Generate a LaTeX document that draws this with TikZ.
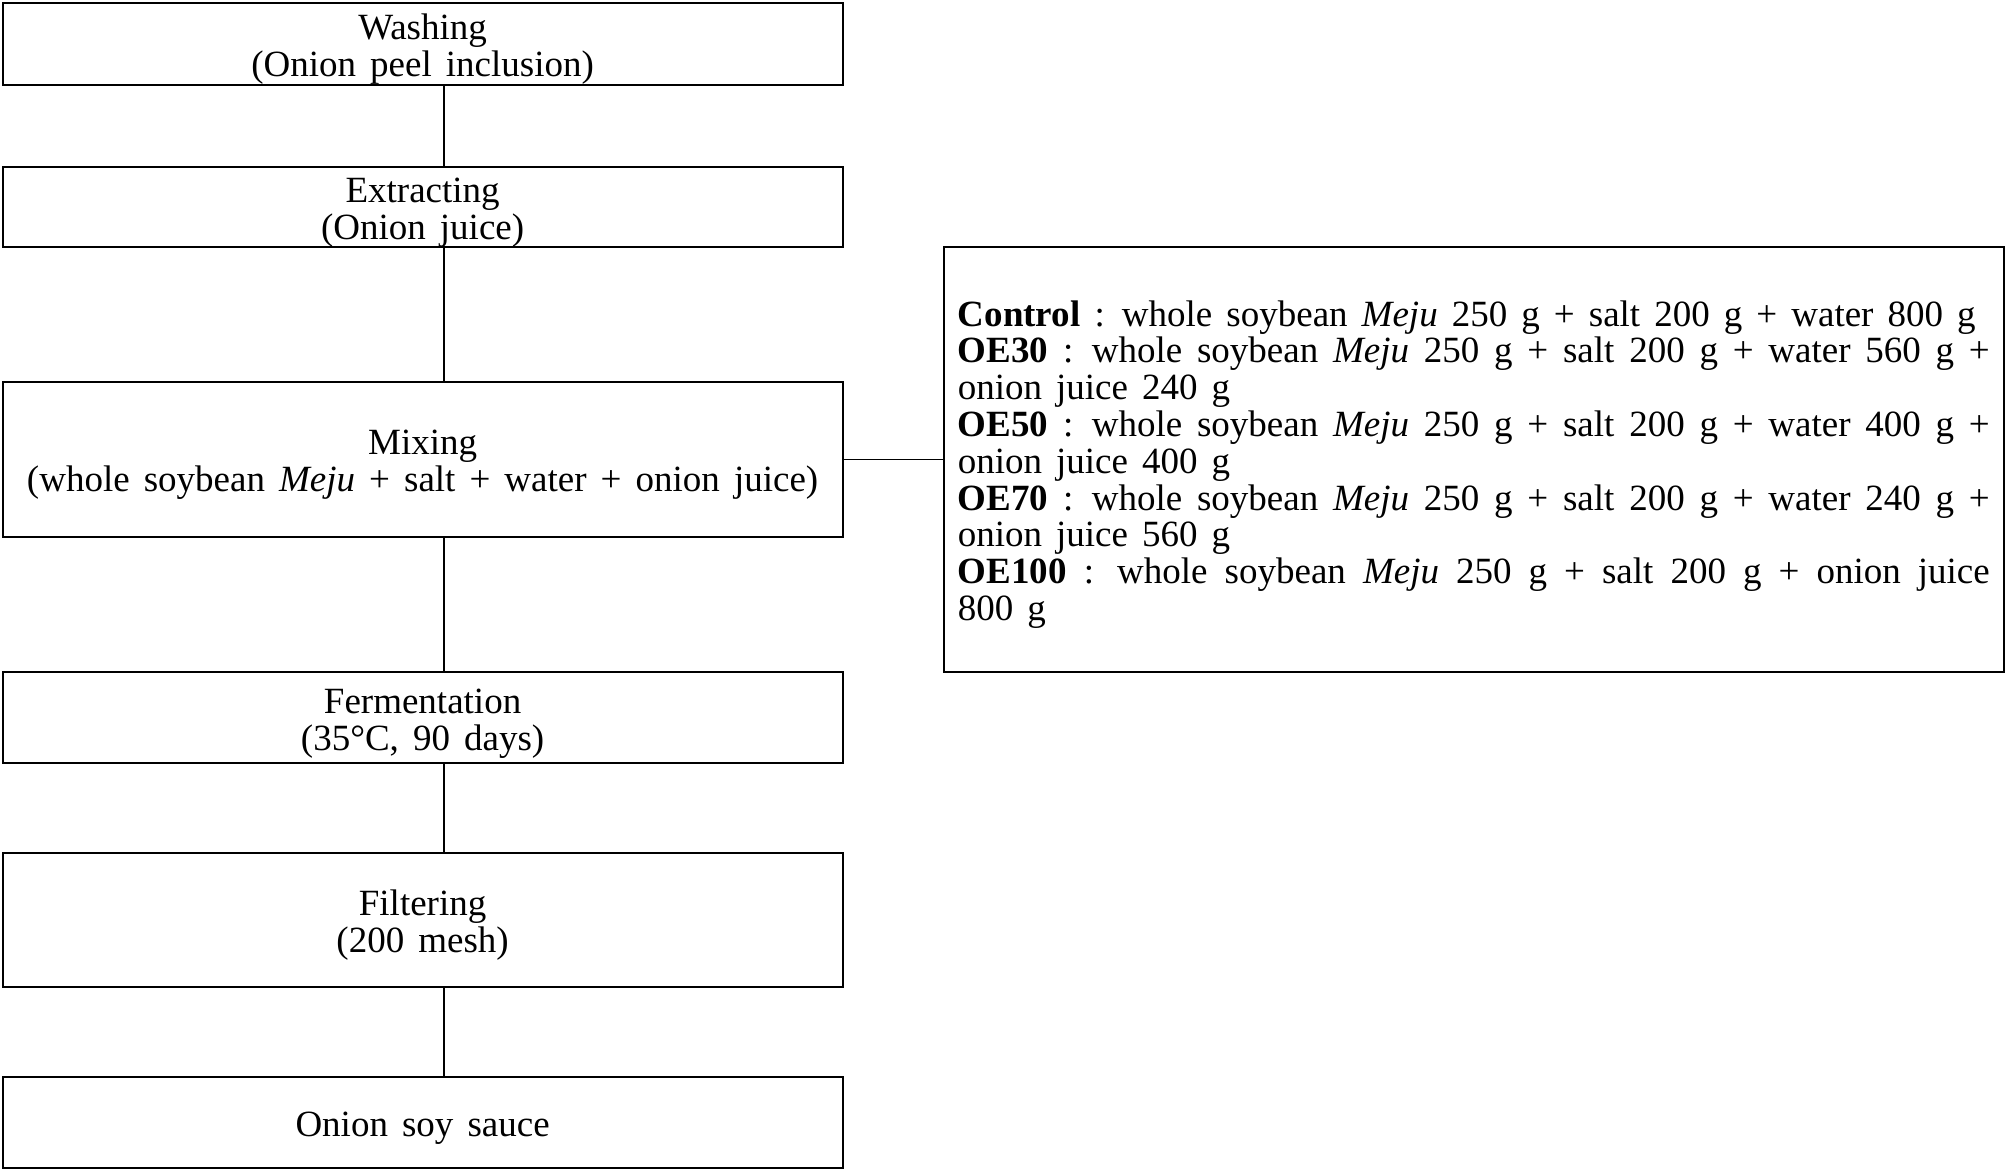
\documentclass[tikz,border=0pt]{standalone}
\usepackage{fontspec}
\setmainfont{Liberation Serif}
\usepackage{tikz}
\usetikzlibrary{positioning}
\newcommand\boxfont{\fontsize{18.5}{18.4}\selectfont\spaceskip=0.38em plus 0.5em minus 0.05em\relax}
\newcommand\lift{\rule{0pt}{18pt}}
\tikzset{
  stage/.style={draw, line width=1pt, rectangle, minimum width=420pt, align=center, inner xsep=2pt, inner ysep=0pt, outer sep=0pt},
  link/.style={line width=0.6pt},
}

\begin{document}
\begin{tikzpicture}[font=\boxfont, node distance=45pt]
  \useasboundingbox (0,0) rectangle (1004pt,-586.5pt);
  \node[stage, minimum height=41pt] (wash) at (211.3pt,-21.8pt) {\lift Washing\\(Onion peel inclusion)};
  \node[stage, below=41pt of wash, minimum height=40.3pt] (extr) {\lift Extracting\\(Onion juice)};
  \node[stage, below=67.3pt of extr, minimum height=77.5pt] (mix) {\lift Mixing\\(whole soybean \textit{Meju} + salt + water + onion juice)};
  \node[stage, below=67.7pt of mix, minimum height=45.5pt] (ferm) {\lift Fermentation\\(35°C, 90 days)};
  \node[stage, below=of ferm, minimum height=67pt] (filt) {\lift Filtering\\(200 mesh)};
  \node[stage, below=of filt, minimum height=45.5pt] (soy) {\lift Onion soy sauce};
  \node[draw, line width=1pt, outer sep=0pt, right=50.6pt of mix, text width=516pt, inner sep=7pt, minimum height=212.5pt, align=justify] (recipe) {%
    \lift\textbf{Control} : whole soybean \textit{Meju} 250 g + salt 200 g + water 800 g\par
    \textbf{OE30} : whole soybean \textit{Meju} 250 g + salt 200 g + water 560 g +\linebreak onion juice 240 g\par
    \textbf{OE50} : whole soybean \textit{Meju} 250 g + salt 200 g + water 400 g +\linebreak onion juice 400 g\par
    \textbf{OE70} : whole soybean \textit{Meju} 250 g + salt 200 g + water 240 g +\linebreak onion juice 560 g\par
    \textbf{OE100} : whole soybean \textit{Meju} 250 g + salt 200 g + onion juice\linebreak 800 g};
  \draw[link] ([xshift=10.7pt]wash.south) -- ([xshift=10.7pt]extr.north);
  \draw[link] ([xshift=10.7pt]extr.south) -- ([xshift=10.7pt]mix.north);
  \draw[link] ([xshift=10.7pt]mix.south) -- ([xshift=10.7pt]ferm.north);
  \draw[link] ([xshift=10.7pt]ferm.south) -- ([xshift=10.7pt]filt.north);
  \draw[link] ([xshift=10.7pt]filt.south) -- ([xshift=10.7pt]soy.north);
  \draw[link] (mix) -- (recipe);
\end{tikzpicture}
\end{document}
